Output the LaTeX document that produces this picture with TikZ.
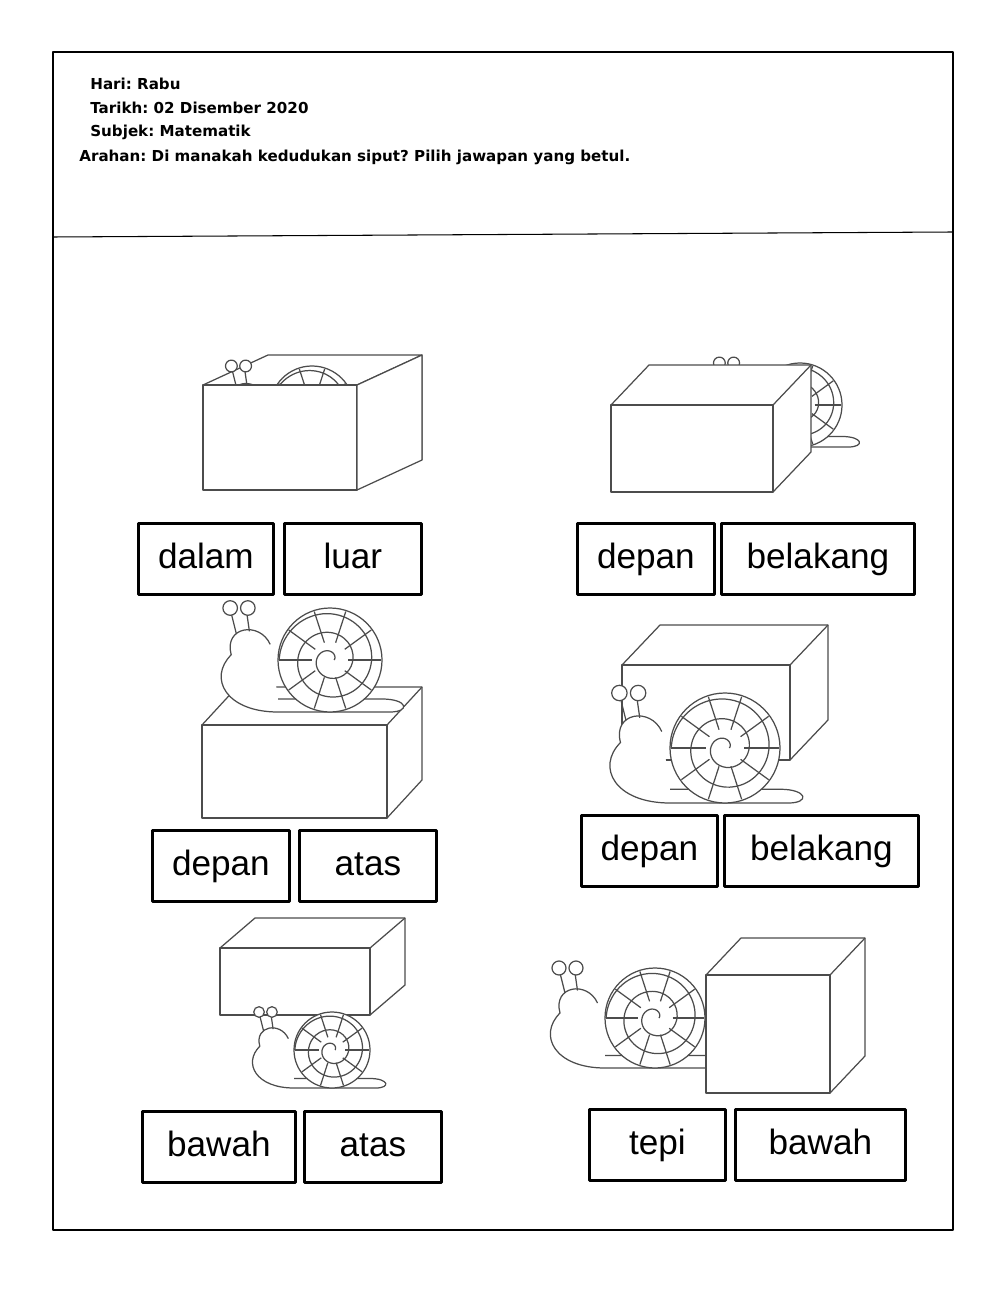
\documentclass[tikz,border=0pt]{standalone}
\usepackage{fontspec}
\setmainfont{Liberation Sans}
\newfontfamily\hdrfont{DejaVu Sans}
\frenchspacing
\begin{document}
\begin{tikzpicture}[x=0.2mm,y=-0.2mm,line join=round,
  lbl/.style={draw,line width=1.6pt,minimum height=71*0.2mm,inner sep=0pt,text height=15pt,text depth=4pt,font=\fontsize{20}{22}\selectfont,anchor=north west},
  hdr/.style={anchor=west,font=\hdrfont\bfseries\fontsize{8.6}{10}\selectfont,inner sep=0pt},
  pic/.style={line width=0.7pt,draw=black!70}]
\useasboundingbox (0,0) rectangle (1000,1291);
\fill[white] (0,0) rectangle (1000,1291);
\draw[line width=0.6pt] (53,52) rectangle (953,1230);
\draw[line width=0.6pt] (53,237) -- (953,232);
\node[hdr] (h1) at (90,84) {Hari: Rabu};
\node[hdr] (h2) at (90,108) {Tarikh: 02 Disember 2020};
\node[hdr] (h3) at (90,132) {Subjek: Matematik};
\node[hdr] (h4) at (79,157) {Arahan: Di manakah kedudukan siput? Pilih jawapan yang betul.};
\tikzset{snail/.pic={
  \draw[pic,fill=white] (-1.15,-0.3) .. controls (-1.35,-0.75) and (-2.05,-0.65) .. (-1.9,-0.1) .. controls (-2.35,0.35) and (-2.0,1.0) .. (-1.0,1.0) -- (1.15,1.0) .. controls (1.55,1.0) and (1.5,0.75) .. (1.0,0.75) -- (-1.0,0.75);
  \draw[pic] (-1.8,-0.5) -- (-1.9,-0.9) (-1.55,-0.55) -- (-1.6,-0.9);
  \draw[pic,fill=white] (-1.92,-1.0) circle (0.14) (-1.58,-1.0) circle (0.14);
  \draw[pic,fill=white] (0,0) circle (1);
  \draw[pic,domain=0:900,samples=90,smooth] plot ({(0.08+0.9*(1-\x/900))*cos(\x+180)},{(0.08+0.9*(1-\x/900))*sin(\x+180)});
  \foreach \a in {0,36,...,324} \draw[pic] (\a:0.35) -- (\a:0.98);
}}
\newcommand{\cubeshape}[6]{%
  \draw[pic,fill=white] (#1,#2) -- (#1+#5,#2-#6) -- (#3+#5,#2-#6) -- (#3+#5,#4-#6) -- (#3,#4) -- (#3,#2) -- cycle;
  \draw[pic] (#3,#2) -- (#3+#5,#2-#6);
  \draw[pic,fill=white] (#1,#2) rectangle (#3,#4);}
% 1 open box
\draw[pic] (268,355) -- (422,355) -- (422,460) (203,385) -- (268,355) (357,385) -- (422,355);
\path (312,408) pic[scale=42] {snail};
\draw[pic,fill=white] (203,385) rectangle (357,490);
\draw[pic,fill=white] (357,385) -- (422,355) -- (422,460) -- (357,490) -- cycle;
% 2
\path (800,405) pic[scale=42] {snail};
\cubeshape{611}{405}{773}{492}{38}{40}
% 3
\cubeshape{202}{725}{387}{818}{35}{38}
\path (330,660) pic[scale=52] {snail};
% 4
\cubeshape{622}{665}{790}{760}{38}{40}
\path (725,748) pic[scale=55] {snail};
% 5
\cubeshape{220}{948}{370}{1015}{35}{30}
\path (332,1050) pic[scale=38] {snail};
% 6
\path (655,1018) pic[scale=50] {snail};
\cubeshape{706}{975}{830}{1093}{35}{37}
% labels
\node[lbl,minimum width=135*0.2mm] (a1) at (137,522) {dalam};
\node[lbl,minimum width=137*0.2mm] (a2) at (283,522) {luar};
\node[lbl,minimum width=137*0.2mm] (b1) at (576,522) {depan};
\node[lbl,minimum width=193*0.2mm] (b2) at (720,522) {belakang};
\node[lbl,minimum width=137*0.2mm] (c1) at (151,829) {depan};
\node[lbl,minimum width=137*0.2mm] (c2) at (298,829) {atas};
\node[lbl,minimum width=136*0.2mm] (d1) at (580,814) {depan};
\node[lbl,minimum width=194*0.2mm] (d2) at (723,814) {belakang};
\node[lbl,minimum width=153*0.2mm] (e1) at (141,1110) {bawah};
\node[lbl,minimum width=137*0.2mm] (e2) at (303,1110) {atas};
\node[lbl,minimum width=136*0.2mm] (f1) at (588,1108) {tepi};
\node[lbl,minimum width=170*0.2mm] (f2) at (734,1108) {bawah};
\end{tikzpicture}
\end{document}
